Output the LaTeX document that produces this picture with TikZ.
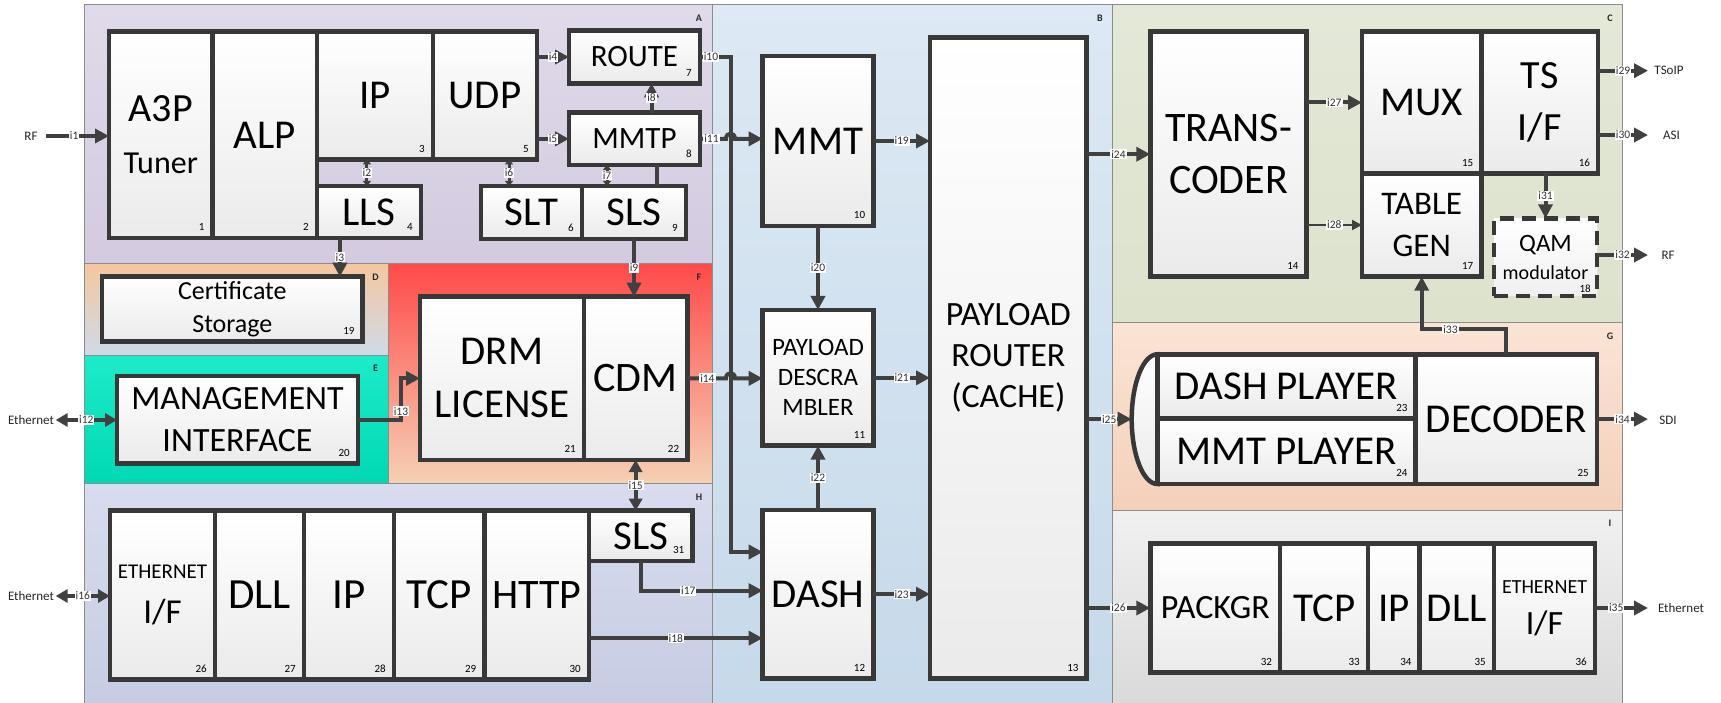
\documentclass[tikz,border=0pt]{standalone}
\usepackage{fontspec}
\setmainfont{Carlito}
\usetikzlibrary{arrows.meta,calc}
\definecolor{boxc}{HTML}{383838}
\definecolor{linec}{HTML}{404040}
\definecolor{aT}{HTML}{E0DAEA}\definecolor{aB}{HTML}{D3CADF}
\definecolor{bT}{HTML}{DDE9F4}\definecolor{bB}{HTML}{C6D9EA}
\definecolor{cT}{HTML}{E4E8D8}\definecolor{cB}{HTML}{DCE2CC}
\definecolor{dT}{HTML}{F4C7A0}\definecolor{dB}{HTML}{CFDAE8}
\definecolor{eT}{HTML}{1CEBC9}\definecolor{eB}{HTML}{00D8B4}
\definecolor{fT}{HTML}{FF4A4A}\definecolor{fM}{HTML}{FA846F}\definecolor{fB}{HTML}{F5D1B4}
\definecolor{gT}{HTML}{FAE4D5}\definecolor{gB}{HTML}{F4D0BA}
\definecolor{hT}{HTML}{D9DCEE}\definecolor{hB}{HTML}{C6CCE3}
\definecolor{iT}{HTML}{F0F0F0}\definecolor{iB}{HTML}{DADADA}
\definecolor{regb}{HTML}{8C8C8C}
\newcommand\fsz[2]{\fontsize{#1}{#2}\selectfont}
\newcommand\bx[7][]{\node[blk,minimum width={#5-#3},minimum height={#6-#4},anchor=north west,#1] (#2) at (#3,#4) {#7};}
\newcommand\bn[3][]{\node[numst,anchor=south east] (#2n) at ([xshift=-8pt,yshift=7pt,#1]#2.south east) {#3};}
\begin{document}
\begin{tikzpicture}[x=1pt,y=-1pt,
  blk/.style={draw=boxc,line width=4.5pt,top color=white,bottom color=black!8,align=center,inner sep=0pt,outer sep=0pt,font=\fsz{41}{50}},
  conn/.style={draw=linec,line width=4pt,-{Triangle[length=14pt,width=14pt]}},
  dconn/.style={draw=linec,line width=4pt,{Triangle[length=12pt,width=13pt]}-{Triangle[length=12pt,width=13pt]}},
  sconn/.style={draw=linec,line width=3pt,{Triangle[length=5pt,width=8pt]}-{Triangle[length=5pt,width=8pt]}},
  plainc/.style={draw=linec,line width=4pt},
  ilbl/.style={fill=white,inner sep=1pt,font=\fsz{11.5}{12},text=black!80},
  numst/.style={inner sep=0pt,font=\fsz{11}{12}},
  rlet/.style={font=\fsz{10}{12}\bfseries,text=black!85},
  extl/.style={font=\fsz{13}{14},inner sep=1.5pt,text=black!85},
  region/.style={draw=regb,line width=1pt}
]
\useasboundingbox (0,0) rectangle (1721,703);
\fill[white] (0,0) rectangle (1721,703);
% regions
\shade[top color=aT,bottom color=aB] (84,5) rectangle (712,264);
\shade[top color=bT,bottom color=bB] (712,5) rectangle (1112.5,703);
\shade[top color=dT,bottom color=dB] (84,264) rectangle (388.4,355);
\shade[top color=eT,bottom color=eB] (84,355) rectangle (388.4,483.3);
\shade[top color=fT,middle color=fM,bottom color=fB] (388.4,264) rectangle (712,483.3);
\shade[top color=hT,bottom color=hB] (84,483.3) rectangle (712,703);
\shade[top color=cT,bottom color=cB] (1112.5,5) rectangle (1622.8,322.7);
\shade[top color=gT,bottom color=gB] (1112.5,322.7) rectangle (1622.8,510);
\shade[top color=iT,bottom color=iB] (1112.5,510) rectangle (1622.8,703);
\draw[region] (84,5) rectangle (712,264);
\draw[region] (712,5) rectangle (1112.5,703);
\draw[region] (84,264) rectangle (388.4,355);
\draw[region] (84,355) rectangle (388.4,483.3);
\draw[region] (388.4,264) rectangle (712,483.3);
\draw[region] (84,483.3) rectangle (712,703);
\draw[region] (1112.5,5) rectangle (1622.8,322.7);
\draw[region] (1112.5,322.7) rectangle (1622.8,510);
\draw[region] (1112.5,510) rectangle (1622.8,703);
\node[rlet] (ra) at (699,18) {A};
\node[rlet] (rb) at (1100,18) {B};
\node[rlet] (rc) at (1610,18) {C};
\node[rlet] (rd) at (375.6,277) {D};
\node[rlet] (re) at (375.6,368) {E};
\node[rlet] (rfl) at (699,277) {F};
\node[rlet] (rg) at (1610,336) {G};
\node[rlet] (rh) at (699,497) {H};
\node[rlet] (ri) at (1610,523) {I};
% boxes region A
\bx[font=\fsz{40}{52}]{a3p}{109}{31.7}{212.6}{238}{A3P\\\fsz{32}{52}Tuner}
\bx{alp}{212.6}{31.7}{316.8}{238}{ALP}
\bx{ip}{316.8}{31.7}{433}{159.3}{IP}
\bx{udp}{433}{31.7}{537}{159.3}{UDP}
\bx{lls}{316.8}{186}{421}{238}{LLS}
\bx[font=\fsz{31}{36}]{route}{569}{30.7}{700}{83.3}{ROUTE}
\bx[font=\fsz{31}{36}]{mmtp}{569}{112.7}{700}{165}{MMTP}
\bx{slt}{481}{186}{582}{239}{SLT}
\bx{sls}{582}{186}{686}{239}{SLS}
% region B
\bx{mmt}{762.7}{56}{873.3}{226}{MMT}
\bx[font=\fsz{25}{30}]{pdesc}{762.7}{310}{873.3}{445.7}{PAYLOAD\\DESCRA\\MBLER}
\bx{dash}{762.7}{510}{873.3}{678.3}{DASH}
\bx[font=\fsz{34}{41}]{prouter}{930}{37.3}{1086.7}{678.3}{PAYLOAD\\ROUTER\\(CACHE)}
% region C
\bx[font=\fsz{42}{52}]{transc}{1150.3}{31.7}{1306.7}{276.7}{TRANS-\\CODER}
\bx{mux}{1362}{31.7}{1481.4}{173.3}{MUX}
\bx[font=\fsz{40}{52}]{tsif}{1481.4}{31.7}{1598.2}{173.3}{TS\\I/F}
\bx[font=\fsz{33}{42}]{tgen}{1362}{173.3}{1481.4}{276.7}{TABLE\\GEN}
\bx[font=\fsz{25}{28},dash pattern=on 14pt off 8pt,bottom color=black!6]{qam}{1494}{218.3}{1597}{296}{QAM\\\fsz{20}{28}modulator}
% region D, E, F
\bx[font=\fsz{26}{33}]{cert}{102}{276.7}{362.7}{341.7}{Certificate\\Storage}
\bx[font=\fsz{34}{42}]{mgmt}{117}{376}{358}{463.3}{MANAGEMENT\\INTERFACE}
\bx[font=\fsz{41}{53}]{drm}{420}{296.7}{584}{460}{DRM\\LICENSE}
\bx[font=\fsz{42}{50}]{cdm}{584}{296.7}{687.3}{460}{CDM}
% region G
\shade[top color=white,bottom color=black!8,draw=boxc,line width=4.5pt] (1157.4,354.3) arc[start angle=90,end angle=270,x radius=25.7pt,y radius=64.85pt] -- cycle;
\coordinate (gl) at (1131.7,419.2);
\bx{dashp}{1157.4}{354.3}{1415.6}{418.3}{DASH PLAYER}
\bx{mmtpl}{1157.4}{418.3}{1415.6}{484}{MMT PLAYER}
\bx{decoder}{1415.6}{354.3}{1597}{484}{DECODER}
% region H
\bx[font=\fsz{21}{45}]{eif}{110}{510.7}{215}{679.3}{ETHERNET\\\fsz{35}{45}I/F}
\bx[font=\fsz{43}{50}]{dll}{215}{510.7}{304}{679.3}{DLL}
\bx[font=\fsz{43}{50}]{ip2}{304}{510.7}{394}{679.3}{IP}
\bx[font=\fsz{43}{50}]{tcp}{394}{510.7}{484.4}{679.3}{TCP}
\bx[font=\fsz{42}{50}]{http}{484.4}{510.7}{589}{679.3}{HTTP}
\bx{sls2}{589}{510.7}{692.4}{561}{SLS}
% region I
\bx[font=\fsz{34}{41}]{packgr}{1150.3}{543.3}{1280.2}{672.7}{PACKGR}
\bx{tcp2}{1280.2}{543.3}{1368}{672.7}{TCP}
\bx{ip3}{1368}{543.3}{1419.6}{672.7}{IP}
\bx{dll2}{1419.6}{543.3}{1494}{672.7}{DLL}
\bx[font=\fsz{20}{41}]{eif2}{1494}{543.3}{1595}{672.7}{ETHERNET\\\fsz{34}{41}I/F}
% numbers
\bn{a3p}{1}\bn{alp}{2}\bn{ip}{3}\bn{lls}{4}\bn{udp}{5}\bn{slt}{6}\bn{route}{7}\bn{mmtp}{8}\bn{sls}{9}
\bn{mmt}{10}\bn{pdesc}{11}\bn{dash}{12}\bn{prouter}{13}\bn{transc}{14}\bn{mux}{15}\bn{tsif}{16}\bn{tgen}{17}\bn[yshift=-4pt,xshift=2pt]{qam}{18}
\bn{cert}{19}\bn{mgmt}{20}\bn{drm}{21}\bn{cdm}{22}\bn{dashp}{23}\bn{mmtpl}{24}\bn{decoder}{25}
\bn{eif}{26}\bn{dll}{27}\bn{ip2}{28}\bn{tcp}{29}\bn{http}{30}\bn{sls2}{31}
\bn{packgr}{32}\bn{tcp2}{33}\bn{ip3}{34}\bn{dll2}{35}\bn{eif2}{36}
% external labels
\coordinate (vx) at (730.5,0);
\coordinate (ox) at (1648,0);
\node[extl] (rf1) at (31,136) {RF};
\node[extl] (eth1) at (31,420) {Ethernet};
\node[extl] (eth2) at (31,596) {Ethernet};
\node[extl] (tsoip) at (1669,70.7) {TSoIP};
\node[extl] (asi) at (1671.5,135) {ASI};
\node[extl] (rf2) at (1668,255) {RF};
\node[extl] (sdi) at (1668,420) {SDI};
\node[extl] (eth3) at (1681,607.7) {Ethernet};
% connectors region A
\draw[conn,shorten <=7pt] (rf1.east) -- node[ilbl] (l1) {i1} (rf1.east -| a3p.west);
\draw[conn] (udp.east |- route.west) -- node[ilbl] (l4) {i4} (route.west);
\draw[conn] (udp.east |- mmtp.west) -- node[ilbl] (l5) {i5} (mmtp.west);
\draw[conn] ([xshift=17pt]mmtp.north) -- node[ilbl] (l8) {i8} ([xshift=17pt]route.south);
\draw[sconn] ([xshift=-8pt]ip.south) -- node[ilbl] (l2) {i2} ([xshift=-8pt]ip.south |- lls.north);
\draw[sconn] ([xshift=24pt]udp.south) -- node[ilbl] (l6) {i6} ([xshift=24pt]udp.south |- slt.north);
\draw[sconn] ([xshift=-27.5pt]mmtp.south) -- node[ilbl] (l7) {i7} ([xshift=-27.5pt]mmtp.south |- sls.north);
\draw[plainc] ([xshift=22.5pt]mmtp.south) -- ([xshift=22.5pt]mmtp.south |- sls.north);
\draw[conn] ([xshift=-29pt]lls.south) -- node[ilbl] (l3) {i3} ([xshift=-29pt]lls.south |- cert.north);
\draw[conn] (sls.south) -- node[ilbl] (l9) {i9} (sls.south |- cdm.north);
% region B connectors
\draw[conn] (route.east) -- node[ilbl,pos=.36] (l10) {i10} (vx |- route.east) |- ([yshift=-42pt]dash.north west);
\draw[conn] (mmtp.east) -- node[ilbl,pos=.44] (l11) {i11} ([xshift=-4.5pt]vx |- mmtp.east) .. controls +(0,-7) and +(0,-7) .. ([xshift=4.5pt]vx |- mmtp.east) -- (mmt.west |- mmtp.east);
\draw[conn] (cdm.east) -- node[ilbl,pos=.52] (l14) {i14} ([xshift=-4.5pt]vx |- cdm.east) .. controls +(0,-7) and +(0,-7) .. ([xshift=4.5pt]vx |- cdm.east) -- (pdesc.west |- cdm.east);
\draw[conn] (mmt.east) -- node[ilbl] (l19) {i19} (mmt.east -| prouter.west);
\draw[conn] (mmt.south) -- node[ilbl] (l20) {i20} (pdesc.north);
\draw[conn] (pdesc.east) -- node[ilbl] (l21) {i21} (pdesc.east -| prouter.west);
\draw[conn] (dash.north) -- node[ilbl] (l22) {i22} (pdesc.south);
\draw[conn] (dash.east) -- node[ilbl] (l23) {i23} (dash.east -| prouter.west);
\coordinate (i17y) at ([yshift=3.5pt]dash.west);
\draw[conn] (sls2.south) -- (sls2.south |- i17y) -- node[ilbl,pos=.39] (l17) {i17} (dash.west |- i17y);
\coordinate (i18y) at ([yshift=-44pt]dash.west);
\draw[conn] (http.east |- i18y) -- node[ilbl] (l18) {i18} (i18y);
\draw[dconn] (cdm.south) -- node[ilbl] (l15) {i15} (cdm.south |- sls2.north);
\draw[dconn] (eth1.east) -- node[ilbl] (l12) {i12} (eth1.east -| mgmt.west);
\coordinate (i13x) at (401,0);
\draw[conn] (mgmt.east) -- (i13x |- mgmt.east) -- node[ilbl,pos=.2] (l13) {i13} (i13x |- drm.west) -- (drm.west);
\draw[dconn] (eth2.east) -- node[ilbl] (l16) {i16} (eth2.east -| eif.west);
% right side connectors
\draw[conn] (prouter.east |- transc.west) -- node[ilbl] (l24) {i24} (transc.west);
\draw[conn] (prouter.east |- gl) -- node[ilbl] (l25) {i25} (gl);
\draw[conn] (prouter.east |- packgr.west) -- node[ilbl] (l26) {i26} (packgr.west);
\draw[conn] (transc.east |- mux.west) -- node[ilbl] (l27) {i27} (mux.west);
\draw[draw=linec,line width=2pt,-{Triangle[length=10pt,width=10pt]}] (transc.east |- tgen.west) -- node[ilbl] (l28) {i28} (tgen.west);
\draw[conn] (tsif.east |- tsoip) -- node[ilbl] (l29) {i29} (ox |- tsoip);
\draw[conn] (tsif.east |- asi) -- node[ilbl] (l30) {i30} (ox |- asi);
\draw[conn] (tsif.south -| qam.north) -- node[ilbl] (l31) {i31} (qam.north);
\draw[conn] (qam.east |- rf2) -- node[ilbl] (l32) {i32} (ox |- rf2);
\coordinate (i33y) at (0,329.3);
\draw[conn] (decoder.north) -- (decoder.north |- i33y) -- node[ilbl,pos=.66] (l33) {i33} (tgen.south |- i33y) -- (tgen.south);
\draw[conn] (decoder.east) -- node[ilbl] (l34) {i34} (ox |- decoder.east);
\draw[conn] (eif2.east) -- node[ilbl,pos=.4] (l35) {i35} (ox |- eif2.east);
\end{tikzpicture}
\end{document}
